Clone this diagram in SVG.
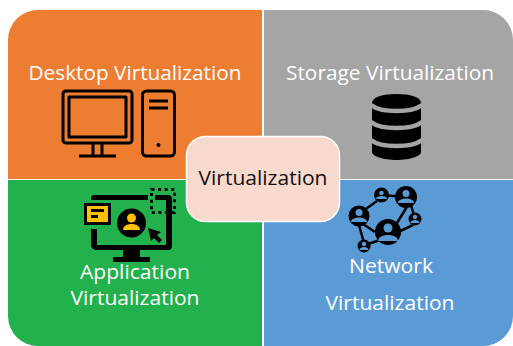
<svg xmlns="http://www.w3.org/2000/svg" width="513" height="346" viewBox="0 0 513 346">
<style>
text{font-family:"Open Sans","Noto Sans","Liberation Sans",sans-serif;font-size:20.500px;fill:#fff;text-anchor:middle}
.o{fill:none;stroke:#000;stroke-width:3;stroke-linejoin:round}
.n{fill:#000}
.l{stroke:#000;stroke-width:2.500;fill:none}
.h{fill:#5b9bd5}
.y{fill:#ffc000}
.b{fill:none;stroke:#a5a5a5;stroke-width:4.500}
</style>
<rect width="513" height="346" fill="#fff"/>
<g id="desktop">
<path d="M8 179V40a30 30 0 0 1 30-30H262V179Z" fill="#ed7d31"/>
<text x="135" y="80" textLength="213" lengthAdjust="spacingAndGlyphs">Desktop Virtualization</text>
<rect class="o" x="63" y="91" width="69" height="52" rx="3"/>
<rect class="o" x="69" y="97" width="57" height="40"/>
<path class="o" d="M93 143V155M102 143V155M79 156H116"/>
<rect class="o" x="142.500" y="91" width="32" height="65" rx="4"/>
<path class="o" d="M149 101H168M149 108H168"/>
<circle class="n" cx="158.500" cy="145" r="2"/>
</g>
<g id="storage">
<path d="M264 10H483a30 30 0 0 1 30 30V179H264Z" fill="#a5a5a5"/>
<text x="390" y="80" textLength="208" lengthAdjust="spacingAndGlyphs">Storage Virtualization</text>
<path class="n" d="M372 103c0-6 11-9 24.500-9s24.500 3 24.500 9V152c0 4-11 8-24.500 8s-24.500-4-24.500-8Z"/>
<path class="b" d="M371 105c5 4 15 6 25.500 6s20.500-2 25.500-6M371 122c5 4 15 6 25.500 6s20.500-2 25.500-6M371 140c5 4 15 6 25.500 6s20.500-2 25.500-6"/>
</g>
<g id="application">
<path d="M8 180H262V346H38a30 30 0 0 1-30-30Z" fill="#22b14c"/>
<path class="n" d="M91 200V198a3 3 0 0 1 3-3H148V200ZM155 195H168a4 4 0 0 1 4 4V246a4 4 0 0 1-4 4H96a5 5 0 0 1-5-5V229H97V245H166V200H155Z"/>
<path class="n" d="M123 250H140V257H150V262H113V257H123Z"/>
<rect x="85.500" y="204.500" width="24" height="19" class="y" stroke="#000" stroke-width="3"/>
<path class="n" d="M91 209H104V212H91ZM91 215H98V218H91Z"/>
<circle class="n" cx="131.500" cy="223" r="14.500"/>
<circle cx="131.500" cy="218" r="4.500" class="y"/>
<path class="y" d="M123 230c0-4 4-6 8.500-6s8.500 2 8.500 6Z"/>
<path class="n" d="M148 228L161 232L157 235L162 240L159 243L154 238L151 241Z"/>
<rect x="151.500" y="189.500" width="23" height="23" fill="none" stroke="#000" stroke-width="3" stroke-dasharray="3 3.570"/>
<text x="135" y="279" textLength="110" lengthAdjust="spacingAndGlyphs">Application</text>
<text x="135" y="305" textLength="129" lengthAdjust="spacingAndGlyphs">Virtualization</text>
</g>
<g id="network">
<path d="M264 180H513V316a30 30 0 0 1-30 30H264Z" fill="#5b9bd5"/>
<path class="l" d="M381 195L406 197M377 201L363 211M408 205L389 236M411 205L415 219M363 224L375 232M413 225L398 232M359 225L364 243M368 244L380 240"/>
<circle class="n" cx="381.500" cy="195" r="7.500"/><circle class="h" cx="381.500" cy="193" r="2.300"/><path class="h" d="M376 199c0-4 11-4 11 0Z"/>
<circle class="n" cx="406" cy="197" r="11"/><circle class="h" cx="406" cy="193.500" r="3.500"/><path class="h" d="M398 203c0-6 16-6 16 0Z"/>
<circle class="n" cx="415" cy="219" r="6.500"/><circle class="h" cx="415" cy="217" r="2.200"/><path class="h" d="M410.500 223c0-4 9-4 9 0Z"/>
<circle class="n" cx="359" cy="216" r="10.500"/><circle class="h" cx="359" cy="212.500" r="3.500"/><path class="h" d="M351 222c0-6 16-6 16 0Z"/>
<circle class="n" cx="388" cy="232" r="13"/><circle class="h" cx="388" cy="228" r="4.500"/><path class="h" d="M378 241c0-8 20-8 20 0Z"/>
<circle class="n" cx="364" cy="246" r="6.500"/><circle class="h" cx="364" cy="244" r="2.200"/><path class="h" d="M359.500 250c0-4 9-4 9 0Z"/>
<text x="391" y="273" textLength="84" lengthAdjust="spacingAndGlyphs">Network</text>
<text x="390" y="310" textLength="129" lengthAdjust="spacingAndGlyphs">Virtualization</text>
</g>
<g id="center">
<rect x="186.500" y="136.500" width="153" height="85" rx="19" fill="#f8d9ce" stroke="#fff" stroke-width="1.500"/>
<text x="263" y="185" textLength="129" lengthAdjust="spacingAndGlyphs" style="fill:#111">Virtualization</text>
</g>
<g id="connectors"></g>
</svg>
